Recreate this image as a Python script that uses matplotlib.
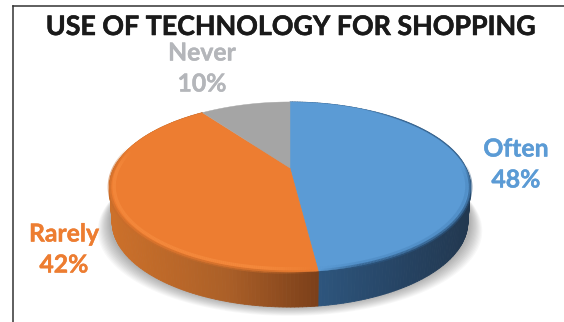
import numpy as np
import matplotlib
matplotlib.use("Agg")
import matplotlib.pyplot as plt
import matplotlib.patheffects as pe
from matplotlib.collections import LineCollection, PolyCollection
from matplotlib.colors import to_rgb
from matplotlib.lines import Line2D

title = "USE OF TECHNOLOGY FOR SHOPPING"
labels = ["Often", "Rarely", "Never"]
shares = [48, 42, 10]
top_colors = ["#5B9BD5", "#ED7D31", "#A5A5A5"]
label_colors = ["#5B9BD5", "#ED7D31", "#B4B6BA"]

W, H = 564, 322
CX, CY = 290, 168      # pixel position of the pie centre
BX, BY = 176, 80.8     # horizontal and vertical stretch of the disc
TILT = 0.2236          # perspective strength, far edge looks smaller
DEPTH = 35             # wall height in pixels


def project(theta_deg, radius=1.0):
    # tilted disc: angle on the pie -> pixel position
    t = np.radians(theta_deg)
    u, v = radius * np.cos(t), radius * np.sin(t)
    w = 1 + TILT * v
    return CX + BX * u / w, CY - BY * v / w


def rim_line(angles, radius, color, lw, alpha, zorder=4):
    # arc along the rim that fades out towards both of its ends
    x, y = project(angles, radius)
    pts = np.column_stack([x, y]).reshape(-1, 1, 2)
    segs = np.concatenate([pts[:-1], pts[1:]], axis=1)
    fade = np.clip(np.minimum(np.arange(len(segs)), np.arange(len(segs))[::-1]) / 25, 0, 1)
    rgba = [(*to_rgb(color), alpha * f) for f in fade]
    ax.add_collection(LineCollection(segs, colors=rgba, linewidths=lw, zorder=zorder,
                                     capstyle="butt"))


fig = plt.figure(figsize=(W / 100, H / 100), dpi=100)
ax = fig.add_axes([0, 0, 1, 1])
ax.set_xlim(0, W)
ax.set_ylim(H, 0)
ax.axis("off")

# slice edges, clockwise from twelve o'clock
edges = 90 - np.cumsum([0] + shares) * 3.6

# soft shadow below the pie
circle = np.linspace(0, 360, 361)
sx, sy = project(circle)
for grow in np.linspace(11, 0, 12):
    ax.fill(CX + (sx - CX) * (1 + grow / 170), sy + DEPTH + grow * 0.8,
            color="black", alpha=0.028, lw=0, zorder=1)


def wall_color(px, stops):
    return [np.interp(px, stops[0], [c[i] / 255 for c in stops[1]]) for i in range(3)]


# side wall, split in narrow strips so the shade can change along it
wall_stops = {
    0: ([316, 400, 468], [(46, 86, 126), (38, 68, 100), (34, 56, 80)]),
    1: ([112, 225, 316], [(204, 112, 42), (172, 96, 40), (124, 64, 26)]),
}
strips, strip_colors = [], []
for i in (0, 1):
    angles = np.arange(edges[i], edges[i + 1], -1.0)
    angles = np.append(angles, edges[i + 1])
    for a, b in zip(angles[:-1], angles[1:]):
        x, y = project(np.array([a, b]))
        # the lower rim sits slightly inside the upper one
        xb = CX + (x - CX) * 0.985
        strips.append([(x[0], y[0]), (x[1], y[1]), (xb[1], y[1] + DEPTH), (xb[0], y[0] + DEPTH)])
        strip_colors.append(wall_color(x.mean(), wall_stops[i]))
ax.add_collection(PolyCollection(strips, facecolors=strip_colors, edgecolors=strip_colors,
                                 linewidths=0.6, zorder=2))

# top face
for i in range(len(shares)):
    angles = np.linspace(edges[i], edges[i + 1], 200)
    x, y = project(angles)
    ax.fill(np.r_[CX, x], np.r_[CY, y], color=top_colors[i], lw=0.3, zorder=3)

# bevel along the front of the top face
front = np.linspace(edges[1], -195, 200)
rim_line(front, 1.0, "#C96C2A", 2.5, 0.6)
rim_line(front, 0.975, "#F68C3F", 2.4, 0.75)
front = np.linspace(edges[1], 2, 200)
rim_line(front, 1.0, "#2C5680", 2.6, 0.7)
rim_line(front, 0.98, "#3F78AE", 2.2, 0.3)

# thin dark edge on the upper right of the blue slice
rim_line(np.linspace(60, -10, 100), 1.0, "#34618C", 1.0, 0.85, zorder=5)

# frame, left and top sides only
fig.add_artist(Line2D([12.5 / W, 12.5 / W], [0, 1 - 6 / H], color="#333333", lw=1.1,
                      transform=fig.transFigure))
fig.add_artist(Line2D([12.5 / W, 1], [1 - 6 / H, 1 - 6 / H], color="#333333", lw=1.1,
                      transform=fig.transFigure))

ax.text(290, 27, title, ha="center", va="center", family="Lato", weight="bold",
        fontsize=19.3, color="#1A1A1A",
        path_effects=[pe.withStroke(linewidth=0.4, foreground="#1A1A1A")])

# data labels: name on one line, share on the next
label_pos = [(516, 149), (64, 234), (202, 53)]
for name, share, col, (lx, ly) in zip(labels, shares, label_colors, label_pos):
    for txt, ty in ((name, ly), (f"{share}%", ly + 31)):
        ax.text(lx, ty, txt, ha="center", va="center", family="Lato", weight="bold",
                fontsize=17.8, color=col,
                path_effects=[pe.withStroke(linewidth=0.3, foreground=col)])

fig.savefig("out.png", dpi=100)
